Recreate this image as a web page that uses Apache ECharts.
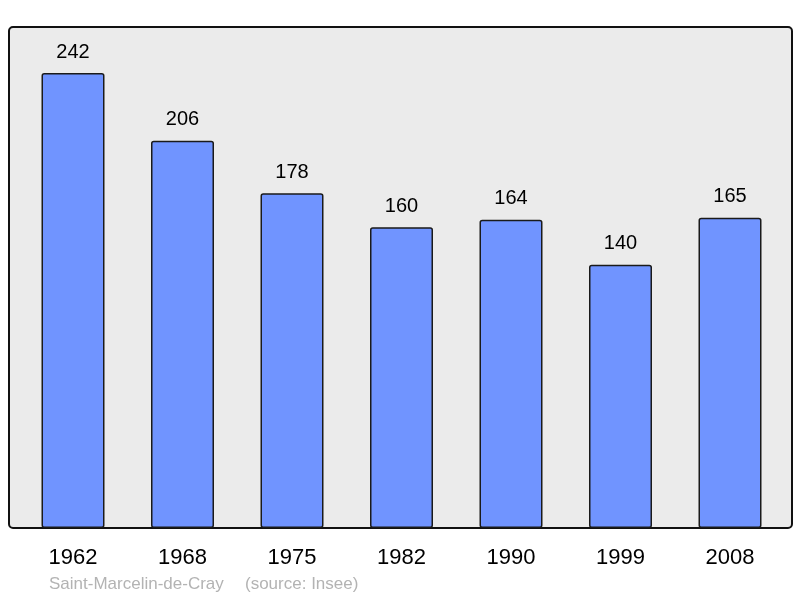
<!DOCTYPE html>
<html><head><meta charset="utf-8">
<script src="https://cdn.jsdelivr.net/npm/echarts@6/dist/echarts.min.js"></script>
<style>html,body{margin:0;padding:0;background:#fff}#c{width:800px;height:598px}</style>
</head><body><div id="c"></div>
<script>
const years = ['1962','1968','1975','1982','1990','1999','2008'];
const population = [242,206,178,160,164,140,165];
const placeName = 'Saint-Marcelin-de-Cray';
const sourceNote = '(source: Insee)';

const chart = echarts.init(document.getElementById('c'), null, {renderer:'canvas'});
const font = '"Liberation Sans", Arial, sans-serif';
chart.setOption({
  animation:false,
  backgroundColor:'#ffffff',
  graphic:[
    {type:'rect', z:0, shape:{x:9,y:27,width:783,height:501,r:4},
     style:{fill:'#ebebeb',stroke:'#111',lineWidth:2}},
    {type:'text', left:49, top:576, z:10,
     style:{text:placeName, fill:'#b3b3b3', font:'17px '+font}},
    {type:'text', left:245, top:576, z:10,
     style:{text:sourceNote, fill:'#b3b3b3', font:'17px '+font}}
  ],
  grid:{left:18.25,width:766.5,top:27,bottom:70,containLabel:false},
  xAxis:{type:'category',data:years,
    axisLine:{show:false},axisTick:{show:false},
    axisLabel:{color:'#000',fontSize:22,margin:19,fontFamily:font}},
  yAxis:{type:'value',min:0,max:266.5,show:false,splitLine:{show:false}},
  series:[{type:'bar',data:population,barWidth:63,z:5,
    itemStyle:{color:'#7094ff',borderColor:'#1a1a1a',borderWidth:1.5,borderRadius:2},
    label:{show:true,position:'top',distance:11,color:'#000',fontSize:20,fontFamily:font}}]
});
</script></body></html>
